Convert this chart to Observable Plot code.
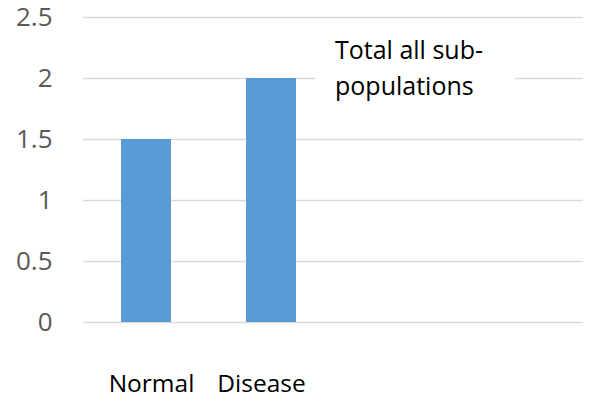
<!DOCTYPE html>
<html>
<head>
<meta charset="utf-8">
<script src="https://cdn.jsdelivr.net/npm/d3@7"></script>
<script src="https://cdn.jsdelivr.net/npm/@observablehq/plot@0.6"></script>
<style>
  html, body { margin: 0; padding: 0; background: #fff; }
  #wrap { position: relative; width: 589px; height: 400px; }
  #title {
    position: absolute; left: 315px; top: 31px; width: 200px; box-sizing: border-box;
    padding-left: 20px; background: #fff; font-family: "Open Sans", sans-serif;
    font-size: 25px; line-height: 36px; color: #000;
  }
</style>
</head>
<body>
<div id="wrap"><div id="chart"></div><div id="title">Total all sub-<br>populations</div></div>
<script>
const categories = ["Normal", "Disease", "slot3", "slot4"];
const labels = ["Normal", "Disease", "", ""];
const values = [1.5, 2, null, null];
const yTicks = [0, 0.5, 1, 1.5, 2, 2.5];

const data = categories.map((c, i) => ({cat: c, label: labels[i], value: values[i]}));
const bars = data.filter(d => d.value != null);

const chart = Plot.plot({
  width: 589,
  height: 400,
  marginLeft: 83,
  marginRight: 6,
  marginTop: 17,
  marginBottom: 78,
  style: {fontFamily: "'Open Sans', sans-serif", background: "#fff"},
  x: {domain: categories, paddingInner: 0.6, paddingOuter: 0.3, axis: null},
  y: {domain: [0, 2.5], ticks: yTicks, axis: null},
  marks: [
    Plot.ruleY(yTicks, {stroke: "#d9d9d9", strokeWidth: 1.5}),
    Plot.barY(bars, {x: "cat", y: "value", fill: "#5b9bd5"}),
    Plot.axisY(yTicks, {tickSize: 0, tickPadding: 31, fontSize: 26, fill: "#595959", label: null, tickFormat: d => String(d)}),
    Plot.text(data.filter(d => d.label === "Normal"), {x: "cat", text: "label", frameAnchor: "bottom", dy: 69, dx: 5, fontSize: 24.5, fill: "#000"}),
    Plot.text(data.filter(d => d.label === "Disease"), {x: "cat", text: "label", frameAnchor: "bottom", dy: 69, dx: -10, fontSize: 24.5, fill: "#000"})
  ]
});
document.getElementById("chart").appendChild(chart);
</script>
</body>
</html>
